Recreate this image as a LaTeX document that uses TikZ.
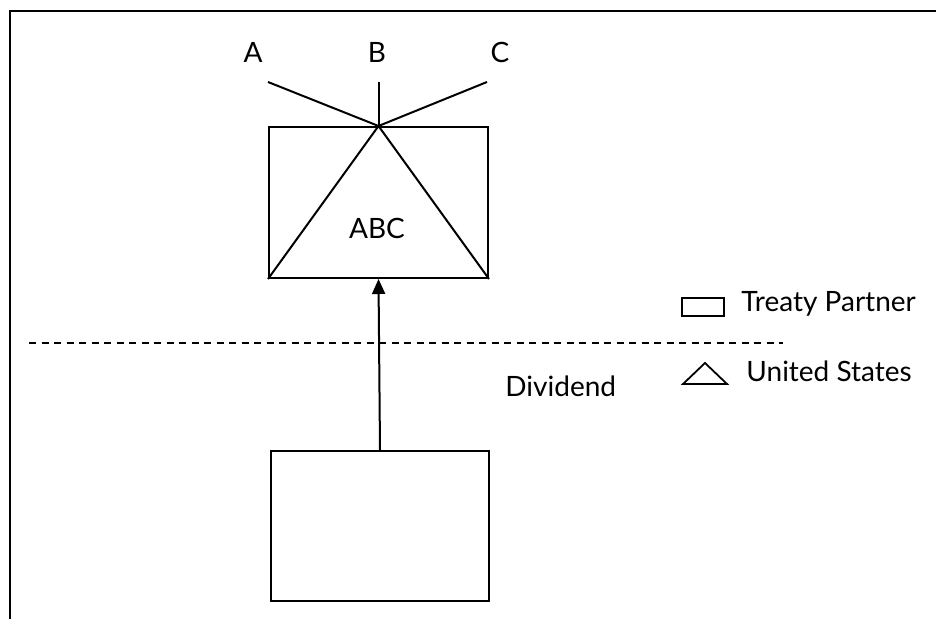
\documentclass[tikz,border=0pt]{standalone}
\usepackage{fontspec}
\setmainfont{Lato}
\usetikzlibrary{arrows.meta}
\begin{document}
\begin{tikzpicture}[x=0.5pt,y=-0.5pt,
  ln/.style={line width=1pt},
  box/.style={draw,line width=1pt,inner sep=0pt,anchor=north west},
  lbl/.style={font=\fontsize{14}{16}\selectfont,inner sep=0pt}]
\useasboundingbox (0,0) rectangle (936,619);
% frame
\draw[ln] (10,619) -- (10,11) -- (936,11);
% entities
\node[box,minimum width=109.5pt,minimum height=75.5pt] (tp) at (268,126) {};
\node[box,minimum width=109pt,minimum height=75pt] (bt) at (270,450) {};
\draw[ln,line join=miter] (tp.south west) -- (tp.north) -- (tp.south east);
\node[lbl] (abc) at (377,228) {ABC};
% shareholders
\node[lbl,anchor=base] (la) at (253,63) {A};
\node[lbl,anchor=base] (lb) at (377,63) {B};
\node[lbl,anchor=base] (lc) at (500,63) {C};
\coordinate (a1) at (268,82);
\coordinate (b1) at (377,82);
\coordinate (c1) at (487,82);
\draw[ln] (a1) -- (tp.north);
\draw[ln] (tp.north |- b1) -- (tp.north);
\draw[ln] (c1) -- (tp.north);
% dividend
\draw[ln,-{Triangle[length=7.5pt,width=6.5pt]}] (bt.north) -- (tp.south);
\node[lbl,anchor=base west] (div) at (505,397) {Dividend};
% border
\coordinate (d1) at (29,343);
\coordinate (d2) at (783,343);
\draw[line width=0.9pt,dash pattern=on 3.5pt off 2.75pt] (d1) -- (d2);
% legend
\node[draw,line width=0.8pt,inner sep=0pt,minimum width=21pt,minimum height=9pt] (lr) at (703,307) {};
\node[lbl,anchor=base west] (ltp) at (741,312) {Treaty Partner};
\draw[line width=0.9pt,line join=miter] (683,384) -- (727,384) -- (705,363) -- cycle;
\node[lbl,anchor=base west] (lus) at (746,382) {United States};
\end{tikzpicture}
\end{document}
